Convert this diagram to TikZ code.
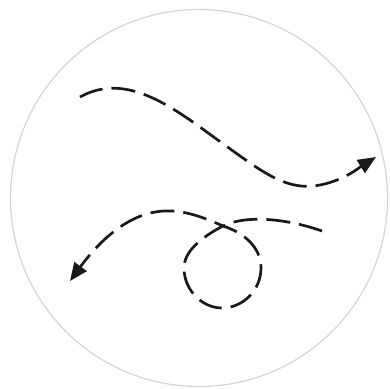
\documentclass[tikz,border=0pt]{standalone}
\usetikzlibrary{arrows.meta}
\tikzset{>={Triangle[length=18pt,width=15pt]}}

\begin{document}
\begin{tikzpicture}[x=1pt, y=-1pt,
  rimcircle/.style={draw=black!17, line width=1.2pt},
  flowpath/.style={->, draw=black!90, line width=2.7pt,
    dash pattern=on 24pt off 9pt}
]

\useasboundingbox (0,0) rectangle (390,388);

% ---------- Outer circle ----------
\draw[rimcircle] (199,198) circle (188.5);

% ---------- Upper wave ----------
\coordinate (wstart) at (80,97);
\coordinate (wmid) at (215,138);
\coordinate (wlow) at (320,185);
\coordinate (wend) at (376,157);
\draw[flowpath] (wstart) .. controls (125,72) and (170,105) .. (wmid)
  .. controls (260,170) and (285,192) .. (wlow)
  .. controls (345,180) and (360,167) .. (wend);

% ---------- Lower path with loop ----------
\coordinate (lstart) at (322,231);
\coordinate (cross) at (223,226);
\coordinate (loopl) at (184,268);
\coordinate (loopb) at (222,308);
\coordinate (loopr) at (261,268);
\coordinate (ltop) at (165,211);
\coordinate (lend) at (70,281);
\draw[flowpath] (lstart) .. controls (285,218) and (245,215) .. (cross)
  .. controls (200,238) and (184,252) .. (loopl)
  .. controls (184,290) and (202,308) .. (loopb)
  .. controls (243,308) and (261,290) .. (loopr)
  .. controls (261,248) and (245,233) .. (cross)
  .. controls (205,218) and (185,210) .. (ltop)
  .. controls (130,212) and (100,240) .. (lend);

\end{tikzpicture}
\end{document}
